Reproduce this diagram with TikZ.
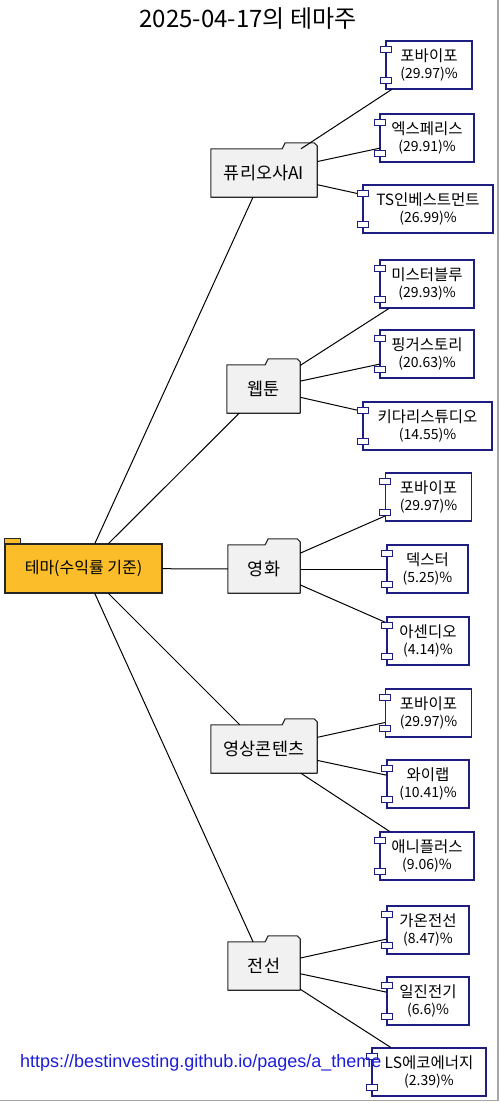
\documentclass[tikz,border=0pt]{standalone}
\usepackage{fontspec}
\setmainfont{Liberation Sans}
\newfontfamily\kr{Noto Sans CJK KR}
\usetikzlibrary{backgrounds}
\definecolor{themegold}{RGB}{251,190,42}
\definecolor{foldergray}{RGB}{241,241,241}
\definecolor{compnavy}{RGB}{30,30,130}
\definecolor{linkblue}{RGB}{28,28,220}
\newcommand{\stock}[2]{{\fontsize{15.5}{18}\selectfont #1}\\#2}

\begin{document}
\begin{tikzpicture}[x=1pt,y=-1pt,
    root/.style={draw=black!85, line width=1.1pt, fill=themegold, minimum width=157pt, minimum height=49pt, inner sep=0pt, font=\kr\fontsize{16}{19}\selectfont},
    roottab/.style={draw=black!85, line width=1.1pt, fill=themegold},
    mid/.style={minimum height=48pt, inner sep=0pt, font=\kr\fontsize{17.5}{20}\selectfont},
    folder/.style={draw=black!85, line width=1.1pt, fill=foldergray, line join=round},
    leaf/.style={draw=compnavy, line width=1.1pt, fill=white, minimum height=48pt, inner sep=0pt, align=center, font=\kr\fontsize{14}{17.5}\selectfont},
    plug/.style={draw=compnavy, line width=1pt, fill=white},
    link/.style={line width=1pt}]
    \useasboundingbox (0,0) rectangle (499,1103);
    \draw[gray!70, line width=1.2pt] (498,0) -- (498,1100.5) -- (0,1100.5);

    \node (title) at (248,19) {\kr\fontsize{24}{27}\selectfont 2025-04-17의 테마주};

    \node[root] (theme) at (83.5,568.5) {테마(수익률 기준)};
    \draw[roottab] (theme.north west) rectangle ++(16,-5);

    \node[mid, minimum width=106pt] (fur) at (264,173) {퓨리오사AI};
    \node[mid, minimum width=73pt] (web) at (263.5,389) {웹툰};
    \node[mid, minimum width=72pt] (mov) at (264,569) {영화};
    \node[mid, minimum width=106pt] (vid) at (264,749) {영상콘텐츠};
    \node[mid, minimum width=72pt] (wire) at (264,966) {전선};
    \begin{scope}[on background layer]
        \foreach \n in {fur,web,mov,vid,wire}
            \draw[folder] (\n.south west) -- (\n.north west) -- ([xshift=-35pt]\n.north east) -- ++(3,-6) -- ([xshift=-3pt,yshift=6pt]\n.north east) -- ++(3,3) -- (\n.south east) -- cycle;
    \end{scope}

    \node[leaf, minimum width=86pt] (fo1) at (429,65) {\stock{포바이포}{(29.97)\%}};
    \node[leaf, minimum width=94pt] (exp) at (427,138) {\stock{엑스페리스}{(29.91)\%}};
    \node[leaf, minimum width=130pt] (tsi) at (428,209) {\stock{TS인베스트먼트}{(26.99)\%}};
    \node[leaf, minimum width=94pt] (mis) at (427,284) {\stock{미스터블루}{(29.93)\%}};
    \node[leaf, minimum width=94pt] (pin) at (427,354) {\stock{핑거스토리}{(20.63)\%}};
    \node[leaf, minimum width=129pt] (kid) at (427.5,426) {\stock{키다리스튜디오}{(14.55)\%}};
    \node[leaf, minimum width=86pt] (fo2) at (428.5,497) {\stock{포바이포}{(29.97)\%}};
    \node[leaf, minimum width=81pt] (dex) at (427.5,569) {\stock{덱스터}{(5.25)\%}};
    \node[leaf, minimum width=82pt] (ase) at (428,641) {\stock{아센디오}{(4.14)\%}};
    \node[leaf, minimum width=86pt] (fo3) at (428.5,713) {\stock{포바이포}{(29.97)\%}};
    \node[leaf, minimum width=82pt] (wai) at (428,784) {\stock{와이랩}{(10.41)\%}};
    \node[leaf, minimum width=94pt] (ani) at (427,856) {\stock{애니플러스}{(9.06)\%}};
    \node[leaf, minimum width=82pt] (gao) at (428,930) {\stock{가온전선}{(8.47)\%}};
    \node[leaf, minimum width=82pt] (ilj) at (428,1001) {\stock{일진전기}{(6.6)\%}};
    \node[leaf, minimum width=114pt] (lse) at (429,1072) {\stock{LS에코에너지}{(2.39)\%}};

    \foreach \a in {fur,web,mov,vid,wire} \draw[link] (theme) -- (\a);
    \draw[link] (fur) -- (fo1); \draw[link] (fur) -- (exp); \draw[link] (fur) -- (tsi);
    \draw[link] (web) -- (mis); \draw[link] (web) -- (pin); \draw[link] (web) -- (kid);
    \draw[link] (mov) -- (fo2); \draw[link] (mov) -- (dex); \draw[link] (mov) -- (ase);
    \draw[link] (vid) -- (fo3); \draw[link] (vid) -- (wai); \draw[link] (vid) -- (ani);
    \draw[link] (wire) -- (gao); \draw[link] (wire) -- (ilj); \draw[link] (wire) -- (lse);

    \foreach \n in {fo1,exp,tsi,mis,pin,kid,fo2,dex,ase,fo3,wai,ani,gao,ilj,lse} {
        \draw[plug] ([xshift=-5pt,yshift=-6pt]\n.north west) rectangle ++(11,6);
        \draw[plug] ([xshift=-5pt,yshift=6pt]\n.south west) rectangle ++(11,-6);
    }

    \node[anchor=west, text=linkblue, font=\fontsize{18}{20}\selectfont, inner sep=0pt] (url) at (20,1063) {https://bestinvesting.github.io/pages/a\_theme};
\end{tikzpicture}
\end{document}
